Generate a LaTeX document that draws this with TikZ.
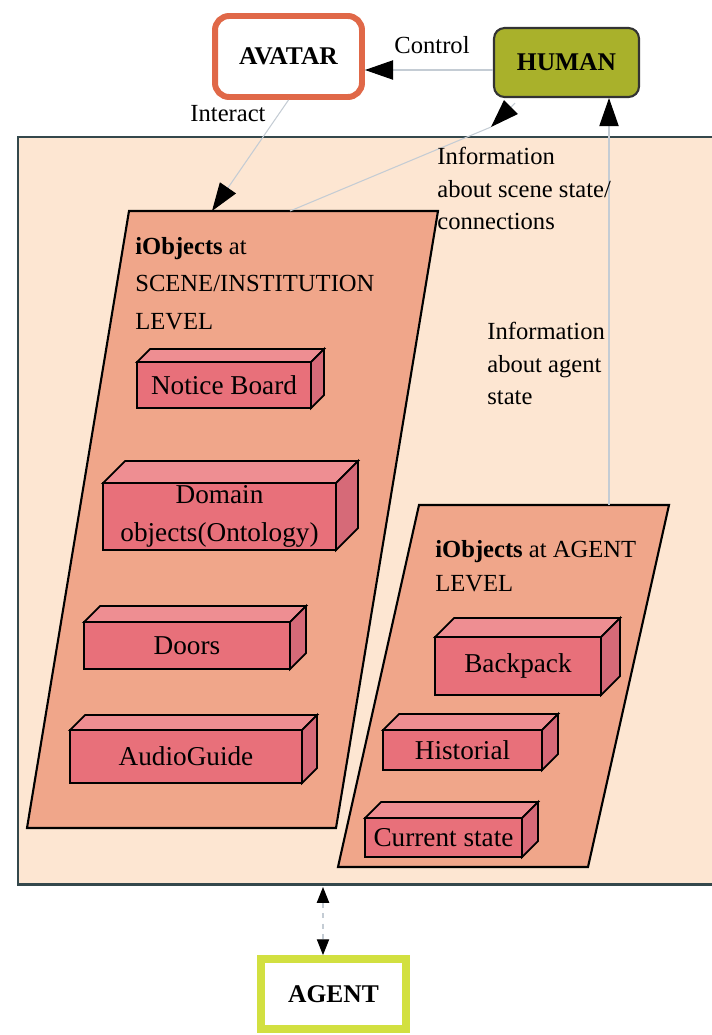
\documentclass[tikz,border=0pt]{standalone}
\usepackage{fontspec}
\setmainfont{Liberation Serif}
\usetikzlibrary{arrows.meta}

\definecolor{framefill}{HTML}{FDE6D2}
\definecolor{frameline}{HTML}{34484C}
\definecolor{levelfill}{HTML}{F0A68A}
\definecolor{boxfront}{HTML}{E8707A}
\definecolor{boxtop}{HTML}{EE8E92}
\definecolor{boxside}{HTML}{D66A78}
\definecolor{avatarline}{HTML}{E06848}
\definecolor{humanfill}{HTML}{A9B12B}
\definecolor{agentline}{HTML}{D2E040}
\definecolor{faint}{HTML}{C4CCD4}

\tikzset{
    infotip/.style={-{Triangle[length=16pt,width=11pt,color=black]}},
    faintline/.style={draw=faint, line width=0.6pt},
    actor/.style={font=\fontsize{14.5}{17}\selectfont\bfseries, inner sep=0pt},
    plain/.style={font=\fontsize{14}{18.5}\selectfont, align=left, inner sep=0pt, anchor=north west},
    boxlabel/.style={font=\fontsize{15.5}{21.6}\selectfont, align=center, inner sep=0pt}
}

% a 3d box: name, x1, y1, x2, y2, depth, label
\newcommand{\iobox}[7]{%
    \filldraw[fill=boxtop, line width=1pt] (#2,#3) -- ({#2+#6},{#3-#6}) -- ({#4+#6},{#3-#6}) -- (#4,#3) -- cycle;
    \filldraw[fill=boxside, line width=1pt] (#4,#3) -- ({#4+#6},{#3-#6}) -- ({#4+#6},{#5-#6}) -- (#4,#5) -- cycle;
    \filldraw[fill=boxfront, line width=1pt] (#2,#3) rectangle (#4,#5);
    \node[boxlabel] (#1) at ({(#2+#4)/2},{(#3+#5)/2}) {#7};
}

\begin{document}
\begin{tikzpicture}[x=0.02cm, y=-0.02cm]
    \useasboundingbox (0,0) rectangle (711,1035);

    % the frame
    \filldraw[fill=framefill, draw=frameline, line width=1.7pt] (18,137) rectangle (714,884);

    % the two levels
    \filldraw[fill=levelfill, line width=1.2pt] (129,211) -- (438,211) -- (336,828) -- (27,828) -- cycle;
    \filldraw[fill=levelfill, line width=1.2pt] (419,505) -- (669,505) -- (588,867) -- (338,867) -- cycle;
    \coordinate (scn-in) at (212,211);
    \coordinate (scn-info) at (290,211);
    \coordinate (hum-tip) at (491,127);
    \coordinate (agt-info) at (609,505);
    \coordinate (ctrl) at (430,70);
    \coordinate (gap) at (323,887);

    % the actors
    \node[actor, draw=avatarline, line width=3.4pt, rounded corners=8pt, fill=white,
          minimum width=2.94cm, minimum height=1.62cm] (AVATAR) at (288.5,56.5) {AVATAR};
    \node[actor, draw=black!80, line width=1.2pt, rounded corners=6pt, fill=humanfill,
          minimum width=2.9cm, minimum height=1.38cm] (HUMAN) at (566.5,62.5) {HUMAN};
    \node[actor, draw=agentline, line width=4.5pt, fill=white,
          minimum width=2.9cm, minimum height=1.4cm] (AGENT) at (333.5,994) {AGENT};

    % scene level
    \node[plain, font=\fontsize{14}{21.3}\selectfont] (scn-title) at (135,237)
        {{\bfseries iObjects} at\\SCENE/INSTITUTION\\LEVEL};
    \iobox{notice}{137}{362}{311}{408}{13}{Notice Board}
    \iobox{domain}{103}{483}{336}{550}{22}{Domain\\objects(Ontology)}
    \iobox{doors}{84}{622}{290}{669}{16}{Doors}
    \iobox{audio}{70}{730}{302}{783}{15}{AudioGuide}

    % agent level
    \node[plain, font=\fontsize{14}{19.4}\selectfont] (agt-title) at (435,540)
        {{\bfseries iObjects} at AGENT\\LEVEL};
    \iobox{backpack}{435}{637}{601}{695}{19}{Backpack}
    \iobox{historial}{383}{730}{542}{770}{16}{Historial}
    \iobox{current}{365}{818}{522}{857}{16}{Current state}

    % connectors
    \draw[faintline, infotip] (HUMAN.west |- ctrl) -- (AVATAR.east |- ctrl);
    \draw[faintline, infotip] (AVATAR.south) -- (scn-in);
    \draw[faintline] (hum-tip) -- (scn-info);
    \draw[faintline, infotip] ([xshift=0.44cm,yshift=-0.1cm]HUMAN.south west) -- (hum-tip);
    \draw[faintline, infotip] (agt-info) -- (agt-info |- HUMAN.south);
    \draw[faintline, dashed, {Triangle[length=9pt,width=7pt,color=black]}-{Triangle[length=9pt,width=7pt,color=black]}]
        (gap) -- (AGENT.north -| gap);

    % labels
    \node[plain, anchor=center] (control) at (432,45) {Control};
    \node[plain, anchor=center] (interact) at (228,114) {Interact};
    \node[plain] (scn-text) at (437,147) {Information\\about scene state/\\connections};
    \node[plain] (agt-text) at (487,322) {Information\\about agent\\state};
\end{tikzpicture}
\end{document}
